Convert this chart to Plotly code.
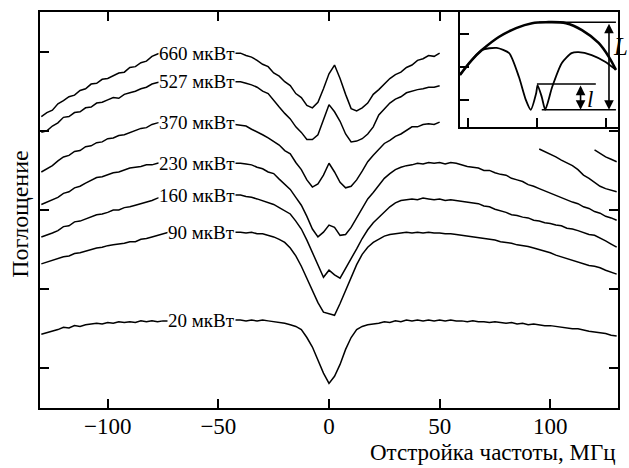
import plotly.graph_objects as go

# ---------------- data (detuning, MHz; absorption, arb. units) ----------------
X_LEFT = [-130, -127.5, -125, -122.5, -120, -117.5, -115, -112.5, -110, -107.5,
          -105, -102.5, -100, -97.5, -95, -92.5, -90, -87.5, -85, -82.5, -80, -77.5,
          -75, -72.5, -70, -67.5, -65, -62.5, -60, -57.5, -55, -52.5, -50, -47.5,
          -45, -42.5, -40, -37.5, -35, -32.5, -30, -27.5, -25, -22.5, -20, -17.5,
          -15, -12.5, -10, -7.5, -5, -2.5, 0, 2.5, 5, 7.5, 10, 12.5, 15, 17.5, 20,
          22.5, 25, 27.5, 30, 32.5, 35, 37.5, 40, 42.5, 45, 47.5, 50]
X_RIGHT_EXTRA = [52.5, 55, 57.5, 60, 62.5, 65, 67.5, 70, 72.5, 75, 77.5, 80, 82.5,
                 85, 87.5, 90, 92.5, 95, 97.5, 100, 102.5, 105, 107.5, 110, 112.5,
                 115, 117.5, 120, 122.5, 125, 127.5, 130]
X_FULL = X_LEFT + X_RIGHT_EXTRA

P660 = [3.68, 3.73, 3.76, 3.84, 3.88, 3.93, 3.95, 4.01, 4.03, 4.09, 4.10, 4.15, 4.16, 4.19,
        4.23, 4.24, 4.30, 4.31, 4.36, 4.38, 4.44, 4.47,
        4.49, 4.50, 4.51, 4.50, 4.51, 4.51, 4.50, 4.51, 4.50, 4.50, 4.50, 4.49, 4.49, 4.48,
        4.48, 4.45, 4.43, 4.39, 4.34, 4.31, 4.23, 4.19, 4.12, 4.07, 3.97, 3.92, 3.82, 3.79,
        3.86, 4.03, 4.22, 4.33, 4.16, 3.96, 3.78, 3.75, 3.79, 3.85, 3.96, 4.02, 4.09, 4.16,
        4.21, 4.24, 4.30, 4.33, 4.39, 4.41, 4.45, 4.44, 4.48]
P527 = [3.48, 3.50, 3.56, 3.60, 3.67, 3.68, 3.73, 3.74, 3.79, 3.80, 3.85, 3.86, 3.89, 3.92,
        3.91, 3.96, 3.98, 4.00, 4.03, 4.05, 4.09, 4.11,
        4.12, 4.13, 4.13, 4.14, 4.13, 4.14, 4.13, 4.13, 4.14, 4.13, 4.13, 4.12, 4.12, 4.12,
        4.12, 4.10, 4.08, 4.05, 4.00, 3.97, 3.88, 3.80, 3.72, 3.65, 3.55, 3.48, 3.39, 3.39,
        3.45, 3.63, 3.83, 3.74, 3.62, 3.46, 3.36, 3.37, 3.40, 3.46, 3.55, 3.70, 3.78, 3.85,
        3.90, 3.93, 3.98, 4.00, 4.02, 4.03, 4.05, 4.05, 4.07]
P370 = [2.98, 3.02, 3.06, 3.12, 3.17, 3.19, 3.24, 3.25, 3.30, 3.31, 3.35, 3.36, 3.40, 3.41,
        3.44, 3.45, 3.48, 3.50, 3.53, 3.54, 3.58, 3.60,
        3.61, 3.62, 3.62, 3.62, 3.62, 3.61, 3.61, 3.61, 3.60, 3.60, 3.59, 3.59, 3.58, 3.58,
        3.57, 3.56, 3.52, 3.49, 3.45, 3.41, 3.36, 3.32, 3.25, 3.21, 3.10, 3.01, 2.88, 2.79,
        2.83, 2.94, 3.09, 2.98, 2.85, 2.78, 2.80, 2.88, 2.99, 3.11, 3.19, 3.26, 3.34, 3.38,
        3.43, 3.46, 3.50, 3.55, 3.55, 3.58, 3.59, 3.58, 3.61]
P230 = [2.57, 2.60, 2.63, 2.66, 2.71, 2.73, 2.78, 2.80, 2.84, 2.87, 2.91, 2.92, 2.95, 2.97,
        2.98, 3.01, 3.03, 3.04, 3.05, 3.07, 3.07, 3.09,
        3.10, 3.10, 3.11, 3.10, 3.11, 3.10, 3.10, 3.11, 3.10, 3.10, 3.10, 3.09, 3.10, 3.09,
        3.09, 3.08, 3.07, 3.04, 3.02, 2.98, 2.96, 2.89, 2.83, 2.76, 2.66, 2.56, 2.42, 2.26,
        2.16, 2.22, 2.31, 2.28, 2.18, 2.19, 2.28, 2.40, 2.52, 2.64, 2.72, 2.81, 2.90, 2.96,
        3.01, 3.04, 3.06, 3.07, 3.09, 3.08, 3.10, 3.09, 3.10,
        3.08, 3.10, 3.09, 3.07, 3.05, 3.04, 3.03, 3.00, 3.00, 2.97, 2.95, 2.94, 2.90, 2.88,
        2.86, 2.82, 2.80, 2.77, 2.74, 2.71, 2.69, 2.66, 2.63, 2.60, 2.58, 2.54, 2.52, 2.48,
        2.46, 2.42, 2.40, 2.37]
P160 = [2.16, 2.18, 2.21, 2.24, 2.29, 2.30, 2.35, 2.36, 2.39, 2.41, 2.44, 2.45, 2.47, 2.50,
        2.50, 2.53, 2.54, 2.56, 2.58, 2.60, 2.62, 2.65,
        2.67, 2.68, 2.68, 2.69, 2.68, 2.69, 2.69, 2.70, 2.69, 2.69, 2.70, 2.69, 2.69, 2.69,
        2.69, 2.67, 2.66, 2.64, 2.62, 2.59, 2.57, 2.53, 2.49, 2.45, 2.36, 2.26, 2.12, 1.97,
        1.82, 1.65, 1.74, 1.68, 1.64, 1.76, 1.88, 2.01, 2.14, 2.25, 2.34, 2.41, 2.48, 2.54,
        2.59, 2.62, 2.63, 2.64, 2.63, 2.65, 2.64, 2.63, 2.64,
        2.62, 2.63, 2.62, 2.61, 2.60, 2.59, 2.58, 2.55, 2.54, 2.51, 2.49, 2.47, 2.44, 2.43,
        2.41, 2.40, 2.37, 2.36, 2.34, 2.33, 2.31, 2.30, 2.27, 2.26, 2.24, 2.22, 2.19, 2.18,
        2.15, 2.11, 2.07, 2.03]
P90 = [1.82, 1.84, 1.86, 1.88, 1.91, 1.92, 1.95, 1.96, 1.98, 2.00, 2.02, 2.03, 2.05, 2.06,
       2.07, 2.08, 2.10, 2.10, 2.13, 2.14, 2.16, 2.18,
       2.20, 2.22, 2.22, 2.23, 2.22, 2.23, 2.23, 2.22, 2.23, 2.22, 2.22, 2.22, 2.21, 2.22,
       2.22, 2.21, 2.22, 2.20, 2.20, 2.18, 2.16, 2.13, 2.09, 2.02, 1.92, 1.79, 1.64, 1.50,
       1.33, 1.21, 1.19, 1.17, 1.32, 1.48, 1.66, 1.81, 1.94, 2.03, 2.09, 2.13, 2.17, 2.19,
       2.20, 2.21, 2.22, 2.21, 2.22, 2.21, 2.22, 2.21, 2.21,
       2.20, 2.20, 2.19, 2.18, 2.17, 2.16, 2.15, 2.14, 2.13, 2.12, 2.10, 2.09, 2.08, 2.06,
       2.05, 2.04, 2.02, 2.00, 1.98, 1.96, 1.93, 1.91, 1.88, 1.86, 1.84, 1.82, 1.80, 1.79,
       1.77, 1.74, 1.71, 1.69]
P20 = [0.93, 0.95, 0.97, 0.99, 1.02, 1.01, 1.04, 1.03, 1.05, 1.06, 1.07, 1.06, 1.08, 1.07,
       1.09, 1.08, 1.09, 1.08, 1.10, 1.09, 1.10, 1.09,
       1.10, 1.10, 1.10, 1.11, 1.10, 1.11, 1.10, 1.11, 1.11, 1.10, 1.11, 1.11, 1.10, 1.11,
       1.11, 1.10, 1.11, 1.10, 1.11, 1.10, 1.09, 1.08, 1.07, 1.05, 1.03, 0.99, 0.89, 0.77,
       0.60, 0.44, 0.31, 0.40, 0.55, 0.74, 0.89, 0.99, 1.03, 1.05, 1.06, 1.07, 1.09, 1.08,
       1.10, 1.09, 1.11, 1.10, 1.11, 1.10, 1.11, 1.10, 1.11,
       1.10, 1.11, 1.10, 1.10, 1.09, 1.10, 1.09, 1.09, 1.08, 1.09, 1.08, 1.07, 1.08, 1.06,
       1.07, 1.05, 1.06, 1.05, 1.04, 1.04, 1.03, 1.02, 1.01, 1.00, 1.00, 0.98, 0.97, 0.96,
       0.95, 0.94, 0.92, 0.91]

# extra trace fragments at the upper right
XA = [95, 97.5, 100, 102.5, 105, 107.5, 110, 112.5, 115, 117.5, 120, 122.5, 125, 127.5, 130]
YA = [3.27, 3.24, 3.20, 3.17, 3.13, 3.10, 3.06, 3.01, 2.94, 2.90, 2.85, 2.80, 2.77, 2.75, 2.73]
XB = [120, 122.5, 125, 127.5, 130]
YB = [3.26, 3.21, 3.17, 3.14, 3.11]

LABELS = ["660 мкВт", "527 мкВт", "370 мкВт", "230 мкВт", "160 мкВт", "90 мкВт", "20 мкВт"]
LABEL_Y = [4.48, 4.12, 3.61, 3.09, 2.68, 2.22, 1.11]

# inset: upper (no saturation) and lower (split) profiles
INS_UP_X = [-1.11, -0.94, -0.79, -0.55, -0.30, -0.07, 0.13, 0.42, 0.65, 0.89, 1.04, 1.14]
INS_UP_Y = [1.76, 2.21, 2.52, 2.91, 3.18, 3.33, 3.36, 3.33, 3.12, 2.73, 2.30, 1.91]
INS_LO_X = [-1.11, -0.94, -0.79, -0.58, -0.40, -0.26, -0.16, -0.09, -0.01, 0.01, 0.07,
            0.12, 0.22, 0.36, 0.50, 0.60, 0.79, 0.99, 1.14]
INS_LO_Y = [1.76, 2.21, 2.52, 2.58, 2.42, 1.70, 1.00, 0.70, 1.21, 1.45, 1.09,
            0.70, 1.39, 2.12, 2.42, 2.45, 2.36, 2.15, 1.91]

series = [(X_LEFT, P660), (X_LEFT, P527), (X_LEFT, P370), (X_FULL, P230),
          (X_FULL, P160), (X_FULL, P90), (X_FULL, P20)]
for xs, ys in series:
    assert len(xs) == len(ys), (len(xs), len(ys))

FONT = "Liberation Serif"
fig = go.Figure()
for xs, ys in series + [(XA, YA), (XB, YB)]:
    fig.add_trace(go.Scatter(x=xs, y=ys, mode="lines",
                             line=dict(color="black", width=1.5), showlegend=False,
                             hoverinfo="skip"))

for txt, yv in zip(LABELS, LABEL_Y):
    fig.add_annotation(x=-42, y=yv, xref="x", yref="y", text=txt, showarrow=False,
                       xanchor="right", yanchor="middle", bgcolor="white", borderpad=0,
                       font=dict(family=FONT, size=19, color="black"))

# inset traces
fig.add_trace(go.Scatter(x=INS_UP_X, y=INS_UP_Y, xaxis="x2", yaxis="y2", mode="lines",
                         line=dict(color="black", width=2.6, shape="spline"),
                         showlegend=False, hoverinfo="skip"))
fig.add_trace(go.Scatter(x=INS_LO_X, y=INS_LO_Y, xaxis="x2", yaxis="y2", mode="lines",
                         line=dict(color="black", width=1.8, shape="spline", smoothing=0.6),
                         showlegend=False, hoverinfo="skip"))

for (x0, x1, yv) in [(0.03, 1.14, 3.36), (0.07, 1.14, 0.70), (0.0, 0.85, 1.48)]:
    fig.add_shape(type="line", xref="x2", yref="y2", x0=x0, x1=x1, y0=yv, y1=yv,
                  line=dict(color="black", width=1.6))
for (xv, y0, y1) in [(1.04, 3.36, 0.70), (0.63, 1.48, 0.70)]:
    fig.add_annotation(x=xv, y=y1, ax=xv, ay=y0, xref="x2", yref="y2", axref="x2",
                       ayref="y2", text="", showarrow=True, arrowhead=2, arrowside="end+start",
                       arrowsize=1.2, arrowwidth=1.6, arrowcolor="black", standoff=0,
                       startstandoff=0)

fig.add_annotation(x=1.005, y=0.912, xref="paper", yref="paper", text="<i>L</i>",
                   showarrow=False, xanchor="center", yanchor="middle",
                   font=dict(family=FONT, size=25, color="black"))
fig.add_annotation(x=0.952, y=0.778, xref="paper", yref="paper", text="<i>l</i>",
                   showarrow=False, xanchor="center", yanchor="middle",
                   font=dict(family=FONT, size=23, color="black"))

# axis titles
fig.add_annotation(x=-0.035, y=0.49, xref="paper", yref="paper", text="Поглощение",
                   textangle=-90, showarrow=False, xanchor="center", yanchor="middle",
                   font=dict(family=FONT, size=24, color="black"))
fig.add_annotation(x=1.0, y=-0.112, xref="paper", yref="paper",
                   text="Отстройка частоты, МГц", showarrow=False, xanchor="right",
                   yanchor="middle", font=dict(family=FONT, size=23, color="black"))

fig.update_layout(
    width=629, height=468,
    margin=dict(l=40, r=9, t=12, b=60),
    paper_bgcolor="white", plot_bgcolor="white",
    font=dict(family=FONT, size=23, color="black"),
    xaxis=dict(range=[-130.6, 130.6], tickvals=[-100, -50, 0, 50, 100],
               ticktext=["\u2212100", "\u221250", "0", "50", "100"],
               ticks="inside", ticklen=9, tickwidth=2, tickcolor="black",
               showline=True, linewidth=2, linecolor="black", mirror="ticks",
               showgrid=False, zeroline=False, tickfont=dict(size=23),
               ticklabelstandoff=-4),
    yaxis=dict(range=[0, 5], tickvals=[0.5, 1.5, 2.5, 3.5, 4.5], showticklabels=False,
               ticks="inside", ticklen=9, tickwidth=2, tickcolor="black",
               showline=True, linewidth=2, linecolor="black", mirror="ticks",
               showgrid=False, zeroline=False),
    xaxis2=dict(domain=[0.726, 1.0], anchor="y2", range=[-1.115, 1.17],
                tickvals=[-1, 0, 1], showticklabels=False, ticks="inside", ticklen=9,
                tickwidth=2, tickcolor="black", showline=True, linewidth=2,
                linecolor="black", mirror=True, showgrid=False, zeroline=False),
    yaxis2=dict(domain=[0.71, 1.0], anchor="x2", range=[0.18, 3.67],
                tickvals=[1, 2, 3], showticklabels=False, ticks="inside", ticklen=9,
                tickwidth=2, tickcolor="black", showline=True, linewidth=2,
                linecolor="black", mirror=True, showgrid=False, zeroline=False),
)

fig.write_html("out.html")
